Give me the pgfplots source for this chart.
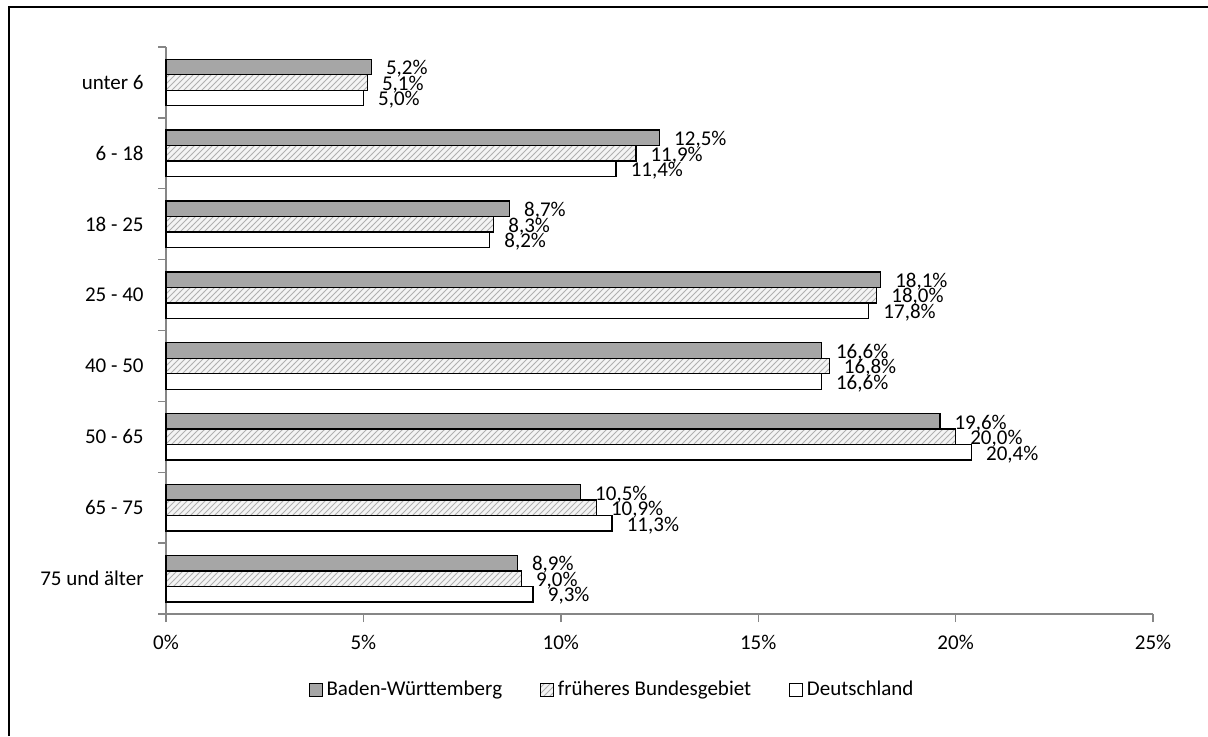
\documentclass[border=0pt]{standalone}
\usepackage{fontspec}
\setmainfont{Carlito}
\usepackage{pgfplots}
\pgfplotsset{compat=1.18}
\usetikzlibrary{patterns}
\definecolor{bwgray}{HTML}{A6A6A6}
\definecolor{axgray}{HTML}{868686}
\definecolor{hatchbg}{HTML}{F4F4F4}
\definecolor{hatchln}{HTML}{B0B0B0}

\pgfplotstableread{
y bw fb de
1 5.2 5.1 5.0
2 12.5 11.9 11.4
3 8.7 8.3 8.2
4 18.1 18.0 17.8
5 16.6 16.8 16.6
6 19.6 20.0 20.4
7 10.5 10.9 11.3
8 8.9 9.0 9.3
}\datatable

\begin{document}
\fontsize{10.5}{12.6}\selectfont
\begin{tikzpicture}[x=1pt,y=1pt]
\path[use as bounding box] (0,0) rectangle (604,368);
\draw[line width=1.1pt] (4.5,0) -- (4.5,364.5) -- (604,364.5);
\begin{axis}[
  at={(83pt,61pt)}, anchor=south west,
  width=493.5pt, height=283.5pt, scale only axis,
  xmin=0, xmax=25, ymin=0.5, ymax=8.5, y dir=reverse,
  xbar, bar width=7.75pt,
  axis x line*=bottom, axis y line*=left,
  axis line style={axgray, line width=0.7pt, -},
  xtick={0,5,10,15,20,25},
  xticklabel={\pgfmathprintnumber{\tick}\%},
  /pgf/number format/assume math mode=true,
  x tick label style={yshift=-3pt},
  xtick style={axgray, line width=0.7pt},
  ytick={1,...,8},
  yticklabels={unter 6, 6 - 18, 18 - 25, 25 - 40, 40 - 50, 50 - 65, 65 - 75, 75 und älter},
  y tick label style={xshift=-3.5pt},
  major y tick style={draw=none},
  minor ytick={0.5,1.5,...,8.5},
  minor y tick style={axgray, line width=0.7pt},
  tick align=outside,
  major tick length=4pt, minor tick length=4pt,
  tick label style={font=\fontsize{10.5}{12.6}\selectfont, black},
  point meta=x,
  nodes near coords={\pgfmathprintnumber[fixed,fixed zerofill,precision=1,use comma]{\pgfplotspointmeta}\%},
  every node near coord/.append style={font=\fontsize{10.5}{12.6}\selectfont, black, inner sep=0pt, xshift=7pt, yshift=-1pt},
  legend columns=3,
  legend style={at={(0.453,-0.134)}, anchor=center, draw=none, fill=none,
     font=\fontsize{10.5}{12.6}\selectfont,
     /tikz/every even column/.append style={column sep=17pt}},
  legend image code/.code={\draw[#1, line width=0.5pt] (0pt,-3.2pt) rectangle (6.4pt,3.2pt);},
  clip=false,
]
\addplot[bar shift=7.75pt, fill=bwgray, draw=black, line width=0.7pt] table[x=bw, y=y] {\datatable};
\addplot[bar shift=0pt, fill=hatchbg, draw=black, line width=0.7pt,
  postaction={pattern=north east lines, pattern color=hatchln}] table[x=fb, y=y] {\datatable};
\addplot[bar shift=-7.75pt, fill=white, draw=black, line width=0.7pt] table[x=de, y=y] {\datatable};
\legend{Baden-Württemberg, früheres Bundesgebiet, Deutschland}
\end{axis}
\end{tikzpicture}
\end{document}
